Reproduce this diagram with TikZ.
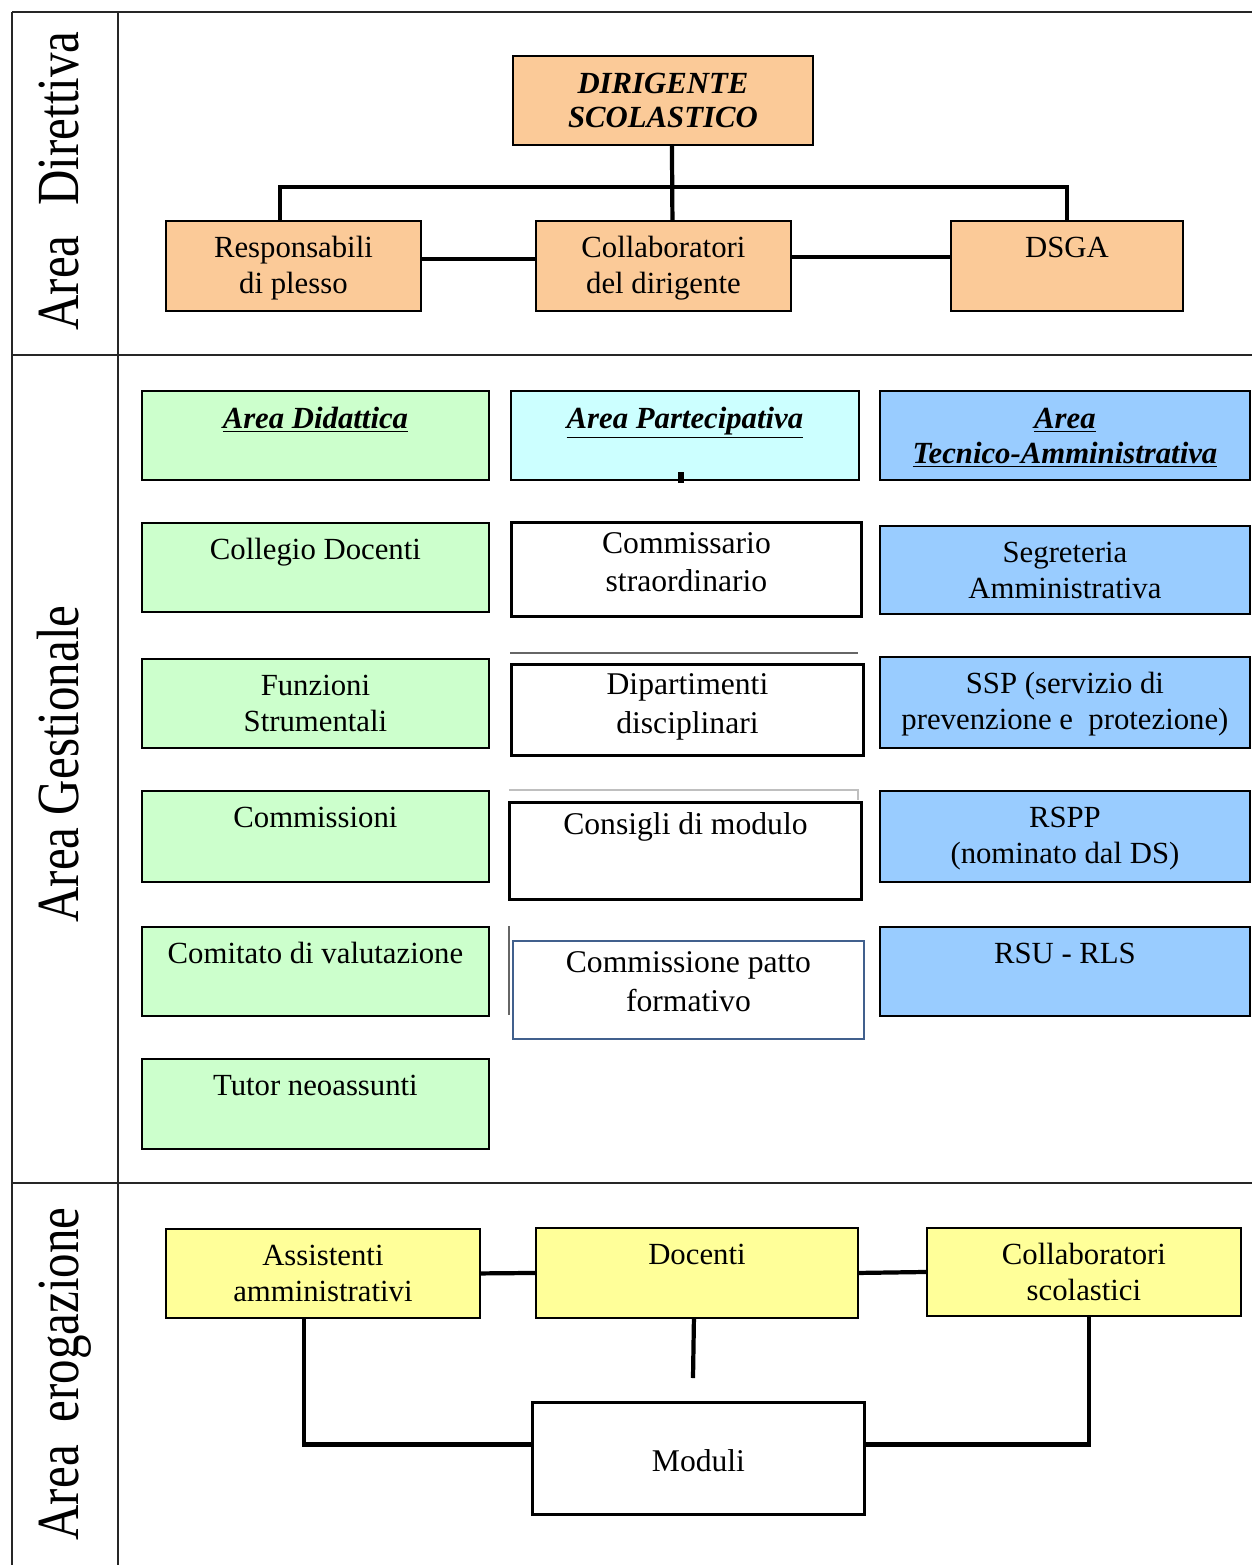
\documentclass[tikz,border=0pt]{standalone}
\usepackage{fontspec}
\setmainfont{Liberation Serif}
\newfontfamily\sidefont{Liberation Serif}[FakeStretch=0.82]

\definecolor{peach}{RGB}{251,202,152}
\definecolor{mint}{RGB}{204,255,204}
\definecolor{icecyan}{RGB}{204,255,255}
\definecolor{skyblue}{RGB}{153,204,255}
\definecolor{lemon}{RGB}{255,255,153}
\definecolor{slateline}{RGB}{65,96,141}

\tikzset{
  box/.style={draw,rectangle,line width=1.1pt,anchor=north west,inner sep=0pt,align=center,text height=21pt,font=\fontsize{17.5}{20}\selectfont},
  wbox/.style={box,fill=white,line width=1.7pt,text height=18pt,font=\fontsize{18}{22}\selectfont},
  head/.style={box,text height=21.5pt,font=\fontsize{17.5}{20}\selectfont\bfseries\itshape},
  conn/.style={line width=2.4pt},
  frame/.style={line width=1.2pt,color=black!85},
  side/.style={rotate=90,anchor=base,font=\sidefont\fontsize{34}{34}\selectfont},
  stray/.style={line width=0.8pt,color=black!60}
}

\begin{document}
\begin{tikzpicture}[x=0.02cm,y=-0.02cm]
  \useasboundingbox (0,0) rectangle (1252,1565);

  % frame
  \draw[frame] (12,12) -- (1252,12);
  \draw[frame] (12,12) -- (12,1565);
  \draw[frame] (118,12) -- (118,1565);
  \draw[frame] (12,355) -- (1252,355);
  \draw[frame] (12,1183) -- (1252,1183);

  \node[side] (s1) at (78,181) {Area\hspace{10pt} Direttiva};
  \node[side] (s2) at (78,764) {Area Gestionale};
  \node[side] (s3) at (78,1374) {Area\hspace{6pt} erogazione};

  %%%%%%%%%%AREA DIRETTIVA%%%%%%%%%%%%%%%%
  \node[head,fill=peach,minimum width=6cm,text height=40.5pt,text depth=10.1pt,font=\fontsize{17.5}{19}\selectfont\bfseries\itshape] (ds) at (512,55) {DIRIGENTE\\SCOLASTICO};

  \node[box,fill=peach,minimum width=5.1cm,text height=41pt,text depth=10.2pt] (a1) at (165,220) {Responsabili\\di plesso};
  \node[box,fill=peach,minimum width=5.1cm,text height=41pt,text depth=10.2pt] (b1) at (535,220) {Collaboratori\\del dirigente};
  \node[box,fill=peach,minimum width=4.64cm,text depth=30.2pt] (c1) at (950,220) {DSGA};

  \draw[conn] ([xshift=0.18cm]ds.south) -- ([xshift=0.18cm]b1.north);
  \draw[conn] ([xshift=-0.27cm]a1.north) -- ++(0,-33) -| (c1.north);
  \draw[conn] ([yshift=0.14cm]a1.east) -- ([yshift=0.14cm]b1.west);
  \draw[conn] ([yshift=0.18cm]b1.east) -- ([yshift=0.18cm]c1.west);

  %%%%%%%%%%AREA GESTIONALE%%%%%%%%%%%%%%%%
  \node[head,fill=mint,minimum width=6.94cm,text depth=29.1pt] (a2) at (141,390) {\underline{Area Didattica}};
  \node[head,fill=icecyan,minimum width=6.96cm,text depth=29.1pt] (b2) at (510,390) {\underline{Area Partecipativa}};
  \node[head,fill=skyblue,minimum width=7.4cm,text height=41.5pt,text depth=9.1pt] (c2) at (879,390) {\underline{Area}\\\underline{Tecnico-Amministrativa}};
  \fill (678,472) rectangle (684,483);

  \node[box,fill=mint,minimum width=6.94cm,text depth=29.6pt] (a3) at (141,522) {Collegio Docenti};
  \node[box,fill=mint,minimum width=6.94cm,text height=41pt,text depth=9.6pt] (a4) at (141,658) {Funzioni\\Strumentali};
  \node[box,fill=mint,minimum width=6.94cm,text depth=30.8pt] (a5) at (141,790) {Commissioni};
  \node[box,fill=mint,minimum width=6.94cm,text depth=29.6pt] (a6) at (141,926) {Comitato di valutazione};
  \node[box,fill=mint,minimum width=6.94cm,text depth=30.2pt] (a7) at (141,1058) {Tutor neoassunti};

  \draw[stray] (510,653) -- (858,653);
  \draw[stray,color=black!25] (509,790) -- (858,790) -- (858,800);
  \draw[stray] (509,926) -- (509,1015);

  \node[wbox,minimum width=7cm,text height=39.5pt,text depth=14pt] (b3) at (510,521) {Commissario\\straordinario};
  \node[wbox,minimum width=7.04cm,text height=39pt,text depth=12.8pt] (b4) at (510,663) {Dipartimenti\\disciplinari};
  \node[wbox,minimum width=7.04cm,text height=18.2pt,text depth=37pt] (b5) at (508,801) {Consigli di modulo};
  \node[wbox,draw=slateline,line width=1.1pt,minimum width=7.02cm,text height=40pt,text depth=15.8pt] (b6) at (512,940) {Commissione patto\\formativo};

  \node[box,fill=skyblue,minimum width=7.4cm,text height=41pt,text depth=9.1pt] (c3) at (879,525) {Segreteria\\Amministrativa};
  \node[box,fill=skyblue,minimum width=7.4cm,text height=41pt,text depth=10.8pt] (c4) at (879,656) {SSP (servizio di\\prevenzione e\ \ protezione)};
  \node[box,fill=skyblue,minimum width=7.4cm,text height=41pt,text depth=10.8pt] (c5) at (879,790) {RSPP\\(nominato dal DS)};
  \node[box,fill=skyblue,minimum width=7.4cm,text depth=29.6pt] (c6) at (879,926) {RSU - RLS};

  %%%%%%%%%%AREA EROGAZIONE%%%%%%%%%%%%%%%%
  \node[box,fill=lemon,minimum width=6.28cm,text height=41pt,text depth=9.6pt] (a8) at (165,1228) {Assistenti\\amministrativi};
  \node[box,fill=lemon,minimum width=6.44cm,text depth=30.2pt] (b8) at (535,1227) {Docenti};
  \node[box,fill=lemon,minimum width=6.28cm,text height=41pt,text depth=9.1pt] (c8) at (926,1227) {Collaboratori\\scolastici};
  \node[wbox,minimum width=6.64cm,text height=39.4pt,text depth=24.3pt] (m8) at (531,1401) {Moduli};
  \coordinate (b8s) at (693,1378);

  \draw[conn] (a8.east) -- (b8.west);
  \draw[conn] (b8.east) -- (c8.west);
  \draw[conn] ([xshift=-0.06cm]b8.south) -- (b8s);
  \draw[conn] ([xshift=-0.38cm]a8.south) |- ([yshift=0.28cm]m8.west);
  \draw[conn] ([xshift=0.1cm]c8.south) |- ([yshift=0.28cm]m8.east);
\end{tikzpicture}
\end{document}
